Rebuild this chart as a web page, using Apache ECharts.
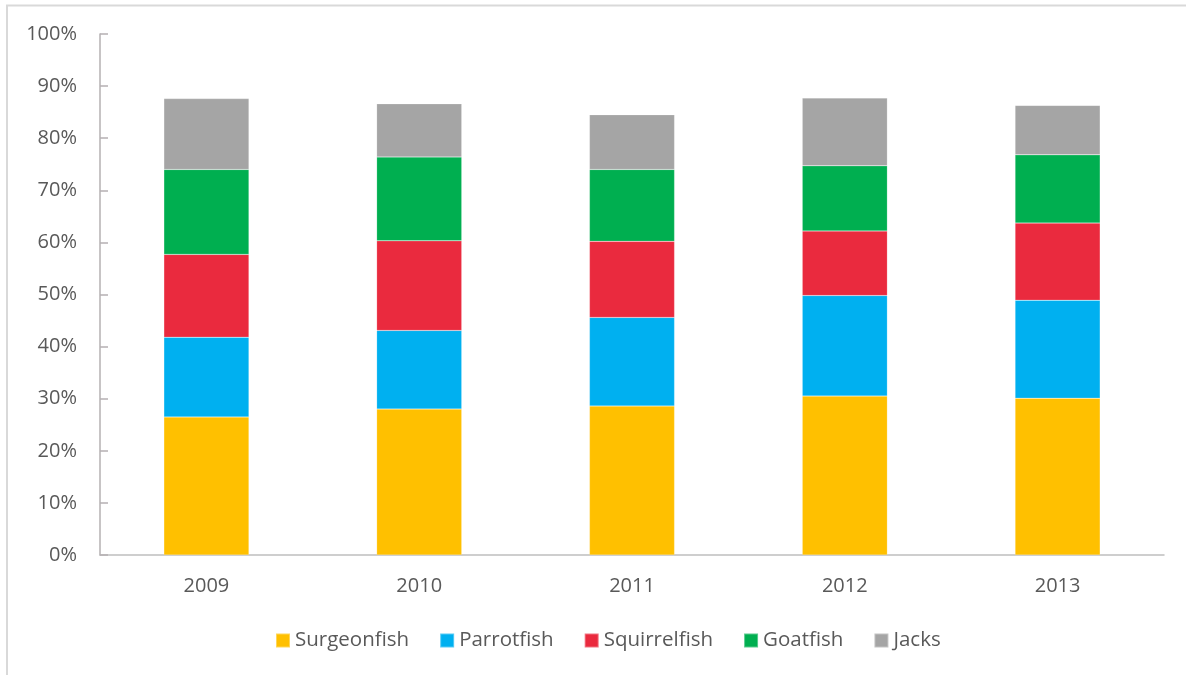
<!DOCTYPE html>
<html>
<head>
<meta charset="utf-8">
<script src="https://cdn.jsdelivr.net/npm/echarts@6/dist/echarts.min.js"></script>
<style>
  html, body { margin: 0; padding: 0; background: #ffffff; }
  #chart { width: 1186px; height: 675px; }
</style>
</head>
<body>
<div id="chart"></div>
<script>
// Share of the fish assemblage by family, per survey year (percent)
const years = ['2009', '2010', '2011', '2012', '2013'];
const surgeonfish  = [26.5, 28.0, 28.6, 30.5, 30.1];
const parrotfish   = [15.3, 15.1, 17.0, 19.3, 18.8];
const squirrelfish = [15.9, 17.2, 14.6, 12.4, 14.8];
const goatfish     = [16.3, 16.1, 13.8, 12.5, 13.1];
const jacks        = [13.6, 10.2, 10.5, 13.0,  9.5];

const seriesDefs = [
  { name: 'Surgeonfish',  data: surgeonfish,  color: '#FFC000' },
  { name: 'Parrotfish',   data: parrotfish,   color: '#00B0F0' },
  { name: 'Squirrelfish', data: squirrelfish, color: '#EA2A3E' },
  { name: 'Goatfish',     data: goatfish,     color: '#00AF50' },
  { name: 'Jacks',        data: jacks,        color: '#A5A5A5' }
];

const font = '"Open Sans", "Noto Sans", sans-serif';
const chart = echarts.init(document.getElementById('chart'));

chart.setOption({
  animation: false,
  backgroundColor: '#ffffff',
  textStyle: { fontFamily: font },
  graphic: [
    { type: 'line', shape: { x1: 7, y1: 5, x2: 7, y2: 675 }, style: { stroke: '#D9D9D9', lineWidth: 2 } },
    { type: 'line', shape: { x1: 6, y1: 5.5, x2: 1186, y2: 5.5 }, style: { stroke: '#D9D9D9', lineWidth: 2 } }
  ],
  grid: { left: 100, right: 22, top: 34, bottom: 120, containLabel: false },
  legend: {
    bottom: 19,
    left: 270,
    itemWidth: 14,
    itemHeight: 14,
    itemGap: 30,
    icon: 'rect',
    textStyle: { fontFamily: font, fontSize: 20.5, color: '#595959' },
    data: seriesDefs.map(s => s.name)
  },
  xAxis: {
    type: 'category',
    data: years,
    axisLine: { lineStyle: { color: '#BFBFBF', width: 1.5 } },
    axisTick: { show: false },
    axisLabel: { fontFamily: font, fontSize: 20, color: '#595959', margin: 21 }
  },
  yAxis: {
    type: 'value',
    min: 0,
    max: 100,
    interval: 10,
    axisLine: { show: true, lineStyle: { color: '#B5B0B2', width: 1.5 } },
    axisTick: { show: true, inside: true, length: 8, lineStyle: { color: '#B5B0B2', width: 1.5 } },
    splitLine: { show: false },
    axisLabel: { fontFamily: font, fontSize: 20, color: '#595959', margin: 23, formatter: v => v + '%' }
  },
  series: seriesDefs.map(s => ({
    name: s.name,
    type: 'bar',
    stack: 'total',
    barWidth: '40%',
    data: s.data,
    itemStyle: { color: s.color, borderColor: 'rgba(255,255,255,0.35)', borderWidth: 0.5 }
  }))
});
</script>
</body>
</html>
